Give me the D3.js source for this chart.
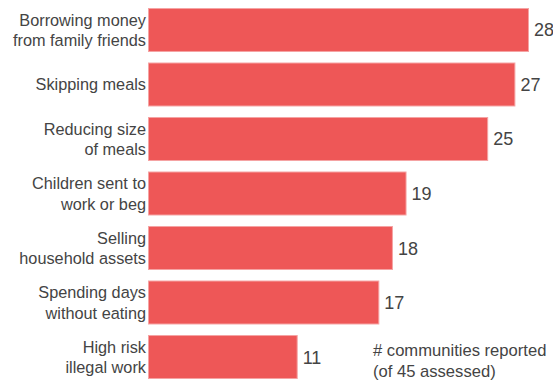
<!DOCTYPE html>
<html><head><meta charset="utf-8">
<script src="https://cdn.jsdelivr.net/npm/d3@7"></script>
<style>body{margin:0;background:#fff}svg{display:block}</style>
</head><body>
<script>
const categories = [
  ["Borrowing money","from family friends"],
  ["Skipping meals"],
  ["Reducing size","of meals"],
  ["Children sent to","work or beg"],
  ["Selling","household assets"],
  ["Spending days","without eating"],
  ["High risk","illegal work"]
];
const values = [28, 27, 25, 19, 18, 17, 11];
const legendLines = ["# communities reported", "(of 45 assessed)"];

const W = 553, H = 380;
const svg = d3.select("body").append("svg").attr("width", W).attr("height", H);
const font = "'Liberation Sans', Arial, sans-serif";

const x = d3.scaleLinear().domain([0, 28]).range([148, 529]);
const y = d3.scaleBand().domain(d3.range(values.length)).range([8, 379]).paddingInner(0.193).paddingOuter(0);

svg.selectAll("rect.bar").data(values).join("rect")
  .attr("class","bar")
  .attr("x", x(0) + 0.5)
  .attr("y", (d,i) => y(i) + 0.5)
  .attr("width", d => x(d) - x(0) - 1)
  .attr("height", y.bandwidth() - 1)
  .attr("fill", "#ee5757")
  .attr("stroke", "#f5a3a3")
  .attr("stroke-width", 1);

svg.selectAll("text.val").data(values).join("text")
  .attr("class","val")
  .attr("x", d => x(d) + 5)
  .attr("y", (d,i) => y(i) + y.bandwidth()/2 + 6.5)
  .attr("font-family", font).attr("font-size", 18).attr("fill", "#444")
  .text(d => d);

const labels = svg.selectAll("text.cat").data(categories).join("text")
  .attr("class","cat")
  .attr("text-anchor","end")
  .attr("font-family", font).attr("font-size", 16.3).attr("fill", "#444");
labels.each(function(lines, i){
  const t = d3.select(this);
  const cy = y(i) + y.bandwidth()/2;
  const lh = 20.5;
  const y0 = cy - (lines.length - 1) * lh / 2 + 5.8;
  lines.forEach((s, j) => {
    t.append("tspan").attr("x", 146).attr("y", y0 + j*lh).text(s);
  });
});

svg.append("text")
  .attr("font-family", font).attr("font-size", 16.6).attr("fill", "#444")
  .selectAll("tspan").data(legendLines).join("tspan")
  .attr("x", 373).attr("y", (d,i) => 356 + i*20.5).text(d => d);
</script>
</body></html>
